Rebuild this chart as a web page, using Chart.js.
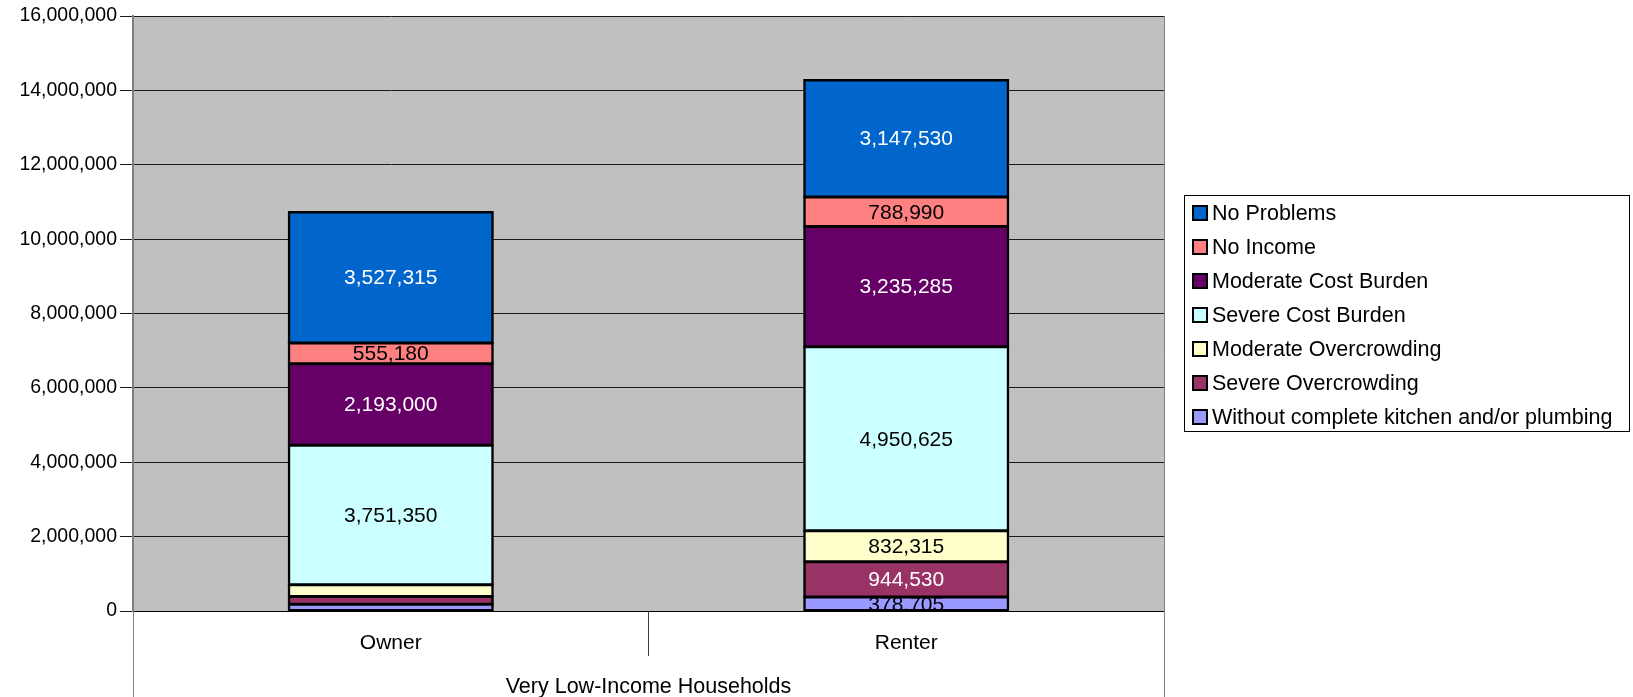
<!DOCTYPE HTML>
<html>
  <head>
    <meta charset="UTF-8"/>
    <title>Very Low-Income Households</title>
    <script src="https://cdn.jsdelivr.net/npm/chart.js@4/dist/chart.umd.min.js"></script>
    <style>
     html, body { margin: 0; padding: 0; background: #fff; }
     div.chart { width: 1633px; height: 697px; }
    </style>
  </head>
  <body>
    <div class="chart">
      <canvas id="chart-households" width="1633" height="697"></canvas>
    </div>

    <script>
     // categories and stacked series (bottom of stack first)
     var categories = ["Owner", "Renter"];
     var axisTitle = "Very Low-Income Households";

     var seriesNames = [
         "Without complete kitchen and/or plumbing",
         "Severe Overcrowding",
         "Moderate Overcrowding",
         "Severe Cost Burden",
         "Moderate Cost Burden",
         "No Income",
         "No Problems"
     ];
     var withoutKitchen      = [180000, 378705];
     var severeOvercrowding  = [210000, 944530];
     var moderateOvercrowding = [315000, 832315];
     var severeCostBurden    = [3751350, 4950625];
     var moderateCostBurden  = [2193000, 3235285];
     var noIncome            = [555180, 788990];
     var noProblems          = [3527315, 3147530];

     var seriesValues = [withoutKitchen, severeOvercrowding, moderateOvercrowding,
                         severeCostBurden, moderateCostBurden, noIncome, noProblems];
     var seriesColors = ["#9999FF", "#993366", "#FFFFCC", "#CCFFFF", "#660066", "#FF8080", "#0066CC"];
     var labelColors  = ["#000", "#fff", "#000", "#000", "#fff", "#000", "#fff"];

     var yTicks = [0, 2000000, 4000000, 6000000, 8000000, 10000000, 12000000, 14000000, 16000000];

     var FONT = "'Liberation Sans', Arial, sans-serif";

     function fmt(v){
         return v.toLocaleString("en-US");
     }

     var plotBackground = {
         id: "plotBackground",
         beforeDraw: function(chart){
             var a = chart.chartArea, ctx = chart.ctx;
             ctx.save();
             ctx.fillStyle = "#C0C0C0";
             ctx.fillRect(a.left, a.top, a.right - a.left, a.bottom - a.top);
             ctx.restore();
         },
         afterDraw: function(chart){
             var a = chart.chartArea, ctx = chart.ctx;
             ctx.save();
             ctx.strokeStyle = "#808080";
             ctx.lineWidth = 1;
             ctx.beginPath();
             ctx.moveTo(a.left + 0.5, a.bottom);
             ctx.lineTo(a.left + 0.5, chart.height);
             ctx.moveTo(a.right + 0.5, a.top);
             ctx.lineTo(a.right + 0.5, chart.height);
             ctx.stroke();
             ctx.restore();
         }
     };

     var segmentLabels = {
         id: "segmentLabels",
         afterDatasetsDraw: function(chart){
             var ctx = chart.ctx, a = chart.chartArea;
             ctx.save();
             ctx.beginPath();
             ctx.rect(a.left, a.top, a.right - a.left, a.bottom - a.top);
             ctx.clip();
             ctx.font = "21px " + FONT;
             ctx.textAlign = "center";
             ctx.textBaseline = "middle";
             chart.data.datasets.forEach(function(ds, i){
                 chart.getDatasetMeta(i).data.forEach(function(el, j){
                     var v = ds.data[j];
                     if (v < 350000) return;
                     ctx.fillStyle = labelColors[i];
                     ctx.fillText(fmt(v), el.x, (el.y + el.base) / 2 + 1);
                 });
             });
             ctx.restore();
         }
     };

     var boxLegend = {
         id: "boxLegend",
         afterDraw: function(chart){
             var ctx = chart.ctx;
             var left = 1184, top = 195, right = 1629, bottom = 431;
             ctx.save();
             ctx.fillStyle = "#fff";
             ctx.fillRect(left, top, right - left, bottom - top);
             ctx.strokeStyle = "#000";
             ctx.lineWidth = 1;
             ctx.strokeRect(left + 0.5, top + 0.5, right - left, bottom - top);
             ctx.font = "21.5px " + FONT;
             ctx.textAlign = "left";
             ctx.textBaseline = "middle";
             var n = chart.data.datasets.length;
             for (var k = 0; k < n; k++){
                 var ds = chart.data.datasets[n - 1 - k];
                 var y = 213 + k * 34;
                 ctx.fillStyle = ds.backgroundColor;
                 ctx.fillRect(1193, y - 7, 14, 14);
                 ctx.strokeStyle = "#000";
                 ctx.lineWidth = 2;
                 ctx.strokeRect(1193, y - 7, 14, 14);
                 ctx.fillStyle = "#000";
                 ctx.fillText(ds.label, 1212, y + 1);
             }
             ctx.restore();
         }
     };

     var datasets = seriesNames.map(function(name, i){
         return {
             label: name,
             data: seriesValues[i],
             backgroundColor: seriesColors[i],
             borderColor: "#000",
             borderWidth: 2.5,
             borderSkipped: false,
             inflateAmount: 1,
             categoryPercentage: 1.0,
             barPercentage: 0.396
         };
     });

     new Chart("chart-households", {
         type: "bar",
         data: { labels: categories, datasets: datasets },
         plugins: [plotBackground, segmentLabels, boxLegend],
         options: {
             responsive: false,
             animation: false,
             events: [],
             layout: { padding: { top: 16, right: 469, bottom: 0, left: 0 } },
             plugins: {
                 legend: { display: false },
                 tooltip: { enabled: false }
             },
             scales: {
                 x: {
                     stacked: true,
                     afterFit: function(s){ s.height = 86; },
                     grid: {
                         offset: true,
                         drawOnChartArea: false,
                         tickLength: 45,
                         color: "#404040"
                     },
                     border: { display: true, color: "#000", width: 1 },
                     ticks: {
                         padding: -25,
                         color: "#000",
                         font: { family: FONT, size: 21 }
                     },
                     title: {
                         display: true,
                         text: axisTitle,
                         color: "#000",
                         font: { family: FONT, size: 21.5 },
                         padding: { top: 0, bottom: -3 }
                     }
                 },
                 y: {
                     stacked: true,
                     min: 0,
                     max: 16000000,
                     afterFit: function(s){ s.width = 133; },
                     afterBuildTicks: function(s){
                         s.ticks = yTicks.map(function(v){ return { value: v }; });
                     },
                     grid: {
                         color: "#1a1a1a",
                         lineWidth: 1,
                         tickLength: 13
                     },
                     border: { display: true, color: "#808080", width: 2 },
                     ticks: {
                         padding: 3,
                         color: "#000",
                         font: { family: FONT, size: 19.5 },
                         callback: function(v){ return fmt(v); }
                     }
                 }
             }
         }
     });
    </script>
  </body>
</html>
